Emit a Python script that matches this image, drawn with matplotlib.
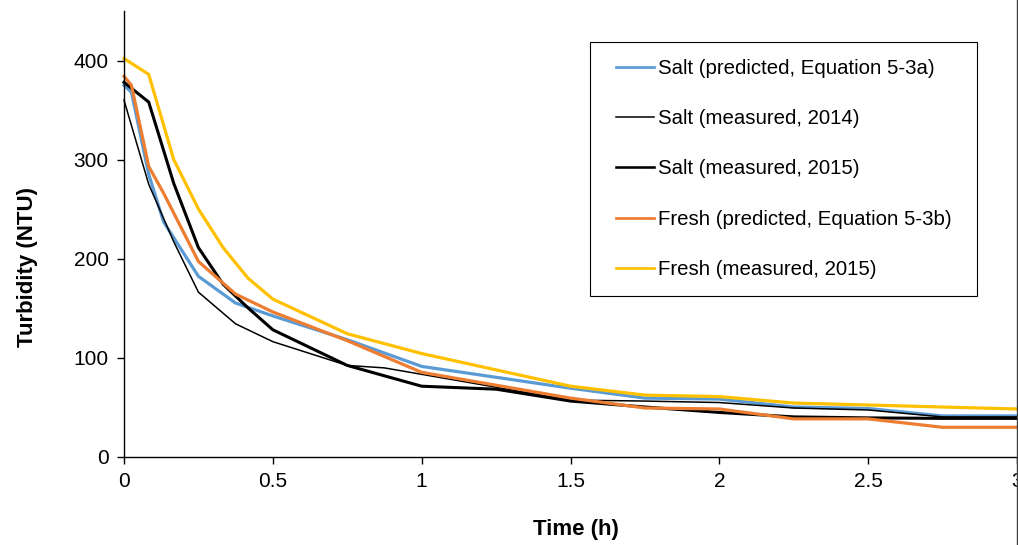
import matplotlib
matplotlib.use("Agg")
import matplotlib.pyplot as plt
from matplotlib.patches import Rectangle
from matplotlib.lines import Line2D

plt.rcParams['font.family'] = ['Liberation Sans', 'DejaVu Sans']

# ---- data ----
t_salt_pred = [0, 0.025, 0.083, 0.133, 0.25, 0.375, 0.5, 0.75, 1.0, 1.5, 1.75, 2.0, 2.25, 2.5, 2.75, 3.0]
salt_pred = [375, 368, 285, 237, 182, 155, 142, 118, 91, 69, 59, 58, 50, 48.5, 41, 41]

t_salt_2014 = [0, 0.083, 0.167, 0.25, 0.375, 0.5, 0.75, 0.875, 1.0, 1.5, 1.75, 2.0, 2.25, 2.5, 2.75, 3.0]
salt_2014 = [360, 275, 217, 166, 134, 116, 92, 89.5, 83, 57, 56, 54.5, 49, 47, 40, 40]

t_salt_2015 = [0, 0.083, 0.167, 0.25, 0.333, 0.417, 0.5, 0.75, 1.0, 1.25, 1.5, 1.75, 2.0, 2.25, 2.5, 2.75, 3.0]
salt_2015 = [378, 358, 276, 211, 174, 150, 128, 92, 71, 68, 56, 50, 44.5, 40, 39, 38.5, 38.5]

t_fresh_pred = [0, 0.025, 0.083, 0.133, 0.25, 0.375, 0.5, 0.75, 1.0, 1.5, 1.75, 2.0, 2.25, 2.5, 2.75, 3.0]
fresh_pred = [384, 375, 293, 266, 197, 164, 146, 117, 85, 59, 49, 48, 38, 38, 29.5, 29.5]

t_fresh_2015 = [0, 0.083, 0.167, 0.25, 0.333, 0.417, 0.5, 0.75, 1.0, 1.5, 1.75, 2.0, 2.25, 2.5, 2.75, 3.0]
fresh_2015 = [402, 386, 300, 250, 211, 180, 159, 124, 104, 71, 62, 60.5, 54, 52, 50, 48]

labels = ["Salt (predicted, Equation 5-3a)",
          "Salt (measured, 2014)",
          "Salt (measured, 2015)",
          "Fresh (predicted, Equation 5-3b)",
          "Fresh (measured, 2015)"]

x_ticks = [0, 0.5, 1, 1.5, 2, 2.5, 3]
x_ticklabels = ["0", "0.5", "1", "1.5", "2", "2.5", "3"]
y_ticks = [0, 100, 200, 300, 400]

W, H = 1018, 545
fig = plt.figure(figsize=(W / 100, H / 100), dpi=100)
ax = fig.add_axes([124 / W, 1 - 456.5 / H, (1017 - 124) / W, (456.5 - 11) / H])

series = [
    (t_salt_pred, salt_pred, '#5B9BD5', 2.3),
    (t_salt_2014, salt_2014, '#000000', 1.1),
    (t_salt_2015, salt_2015, '#000000', 2.2),
    (t_fresh_pred, fresh_pred, '#ED7D31', 2.3),
    (t_fresh_2015, fresh_2015, '#FFC000', 2.3),
]
handles = []
for (tx, ty, c, lw), lab in zip(series, labels):
    ax.plot(tx, ty, color=c, lw=lw, solid_joinstyle='miter', clip_on=False)
    handles.append(Line2D([], [], color=c, lw=lw * 0.85 if lw > 2 else lw))

ax.set_xlim(0, 3)
ax.set_ylim(0, 450)
ax.set_xticks(x_ticks)
ax.set_xticklabels(x_ticklabels)
ax.set_yticks(y_ticks)
for s in ['top', 'right']:
    ax.spines[s].set_visible(False)
for s in ['left', 'bottom']:
    ax.spines[s].set_color('black')
    ax.spines[s].set_linewidth(1.0)
ax.tick_params(direction='out', length=5, width=1, labelsize=15, pad=6, colors='black')

ax.set_xlabel("Time (h)", fontsize=16, fontweight='bold')
ax.set_ylabel("Turbidity (NTU)", fontsize=16, fontweight='bold')
ax.xaxis.set_label_coords((576 - 124) / 893, (456.5 - 530) / 445.5)
ax.xaxis.label.set_va('center')
ax.yaxis.set_label_coords((27 - 124) / 893, (456.5 - 267) / 445.5)
ax.yaxis.label.set_va('center')

leg = fig.legend(handles, labels, loc='upper left',
                 bbox_to_anchor=(616 / W, 1 - 59 / H), frameon=False,
                 fontsize=14.7, handlelength=1.88, handletextpad=0.16,
                 labelspacing=1.53, borderpad=0, borderaxespad=0)

fig.patches.append(Rectangle((590 / W, 1 - 296 / H), (977 - 590) / W, (296 - 42) / H,
                             transform=fig.transFigure, fill=False,
                             edgecolor='black', lw=0.8))
fig.lines.append(Line2D([1016.5 / W, 1016.5 / W], [0, 1], transform=fig.transFigure,
                        color='#404040', lw=1))

fig.savefig("out.png", dpi=100)
